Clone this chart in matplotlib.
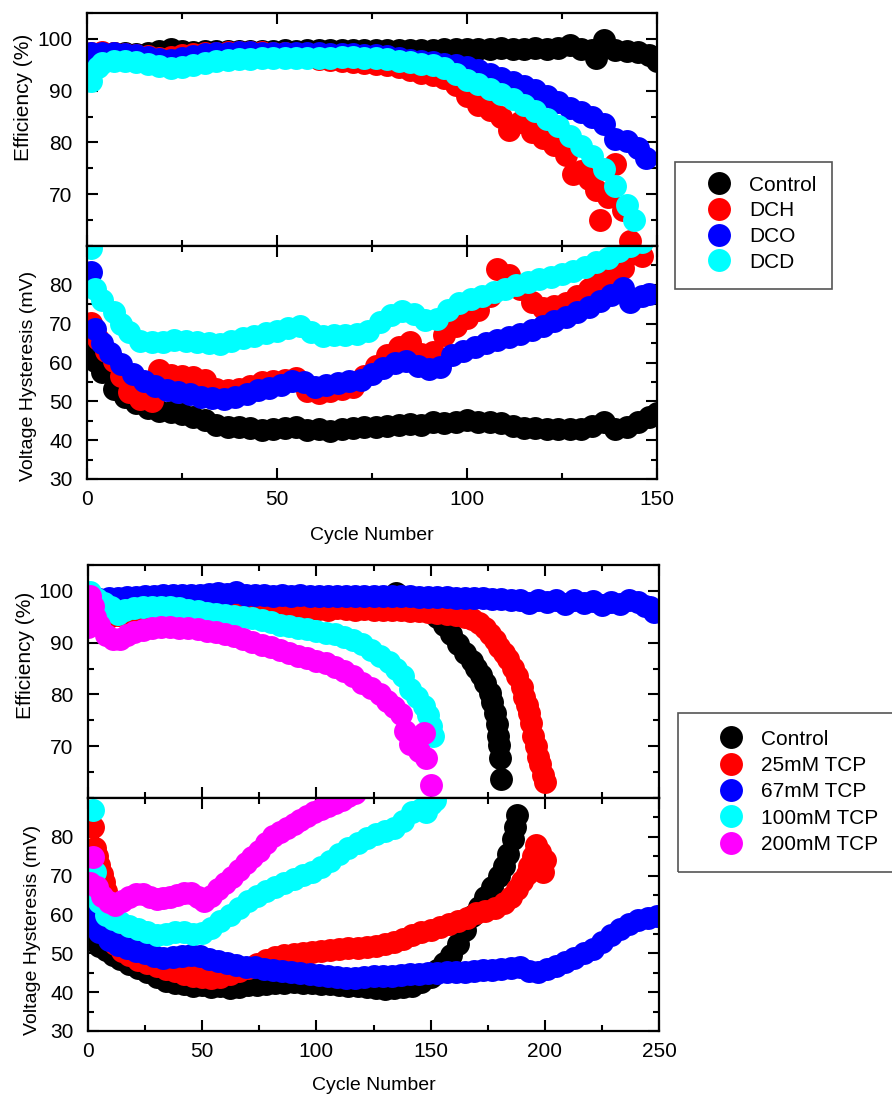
import matplotlib
matplotlib.use("Agg")
import matplotlib.pyplot as plt
from matplotlib.patches import Rectangle
from matplotlib.ticker import MultipleLocator

plt.rcParams['font.family'] = ['Liberation Sans', 'DejaVu Sans']

# ---------------- top figure : DCH / DCO / DCD ----------------
top_names = ['Control', 'DCH', 'DCO', 'DCD']
top_colors = ['#000000', '#ff0000', '#0000ff', '#00ffff']

# efficiency (%)
ctl_eff_x = [1, 4, 7, 10, 13, 16, 19, 22, 25, 28, 31, 34, 37, 40, 43, 46, 49, 52, 55, 58,
             61, 64, 67, 70, 73, 76, 79, 82, 85, 88, 91, 94, 97, 100, 103, 106, 109, 112, 115, 118,
             121, 124, 127, 130, 133, 134, 136, 139, 142, 145, 148, 150]
ctl_eff_y = [97.0, 97.2, 97.3, 97.2, 97.1, 97.2, 97.6, 98.0, 97.6, 97.5, 97.6, 97.6, 97.7, 97.7, 97.6, 97.7, 97.7, 97.8, 97.7, 97.8,
             97.8, 97.9, 97.8, 97.8, 97.9, 97.8, 97.9, 97.9, 97.8, 97.9, 97.9, 98.0, 98.0, 98.1, 98.1, 98.0, 98.2, 98.1, 98.0, 98.2,
             98.1, 98.2, 98.8, 98.1, 97.9, 96.4, 99.8, 97.8, 97.6, 97.5, 96.8, 95.8]

dch_eff_x = [1, 4, 7, 10, 13, 16, 19, 22, 25, 28, 31, 34, 37, 40, 43, 46, 49, 52, 55, 58,
             61, 64, 67, 70, 73, 76, 79, 82, 85, 88, 91, 94, 97, 100, 103, 106, 109, 111, 114, 117,
             120, 123, 126, 128, 130, 132, 134, 135, 137, 139, 141, 143]
dch_eff_y = [97.3, 97.4, 97.3, 97.0, 96.8, 96.6, 96.4, 96.5, 96.8, 97.0, 97.2, 97.3, 97.4, 97.5, 97.5, 97.4, 97.3, 97.2, 97.0, 96.8,
             96.2, 95.9, 95.7, 95.5, 95.3, 95.1, 94.9, 94.6, 94.0, 93.4, 93.0, 92.5, 91.0, 89.0, 87.2, 86.2, 85.0, 82.4, 84.0, 82.0,
             80.8, 79.5, 77.5, 74.0, 74.5, 73.0, 70.8, 65.0, 69.5, 75.8, 67.0, 61.0]

dco_eff_x = [1, 4, 7, 10, 13, 16, 19, 22, 25, 28, 31, 34, 37, 40, 43, 46, 49, 52, 55, 58,
             61, 64, 67, 70, 73, 76, 79, 82, 85, 88, 91, 94, 97, 100, 103, 106, 109, 112, 115, 118,
             121, 124, 127, 130, 133, 136, 139, 142, 145, 147]
dco_eff_y = [97.3, 97.3, 97.2, 97.0, 96.8, 96.5, 96.2, 96.0, 96.4, 96.7, 97.0, 97.2, 97.3, 97.4, 97.4, 97.3, 97.3, 97.2, 97.2, 97.2,
             97.2, 97.1, 97.1, 97.0, 96.9, 96.8, 96.6, 96.3, 96.0, 95.8, 95.5, 95.2, 94.9, 94.6, 94.0, 93.2, 92.4, 91.6, 90.9, 90.1,
             89.0, 87.8, 86.7, 85.8, 85.0, 83.5, 80.6, 80.3, 79.0, 77.0]

dcd_eff_x = [1, 3, 4, 7, 10, 13, 16, 19, 22, 25, 28, 31, 34, 37, 40, 43, 46, 49, 52, 55, 58,
             61, 64, 67, 70, 73, 76, 79, 82, 85, 88, 91, 94, 97, 100, 103, 106, 109, 112, 115, 118,
             121, 124, 127, 130, 133, 136, 139, 142, 144]
dcd_eff_y = [91.8, 94.5, 95.4, 95.7, 95.7, 95.6, 95.2, 94.7, 94.3, 94.5, 94.9, 95.3, 95.7, 96.0, 96.1, 96.2, 96.3, 96.3, 96.4, 96.4, 96.4,
             96.4, 96.4, 96.5, 96.5, 96.4, 96.3, 96.1, 95.8, 95.5, 95.2, 95.0, 94.3, 93.2, 92.1, 91.2, 90.3, 89.4, 88.4, 87.2, 86.0,
             84.6, 83.1, 81.2, 79.3, 77.3, 74.8, 71.5, 68.0, 65.0]

# voltage hysteresis (mV)
ctl_hys_x = [1, 2, 4, 7, 10, 13, 16, 19, 22, 25, 28, 31, 34, 37, 40, 43, 46, 49, 52, 55, 58,
             61, 64, 67, 70, 73, 76, 79, 82, 85, 88, 91, 94, 97, 100, 103, 106, 109, 112, 115, 118,
             121, 124, 127, 130, 133, 136, 139, 142, 145, 148, 150]
ctl_hys_y = [64.0, 60.5, 57.5, 53.3, 51.0, 49.6, 48.4, 47.6, 47.2, 46.8, 46.0, 45.2, 44.0, 43.4, 43.4, 43.2, 42.6, 43.0, 43.2, 43.4, 42.6,
             42.8, 42.4, 43.0, 43.2, 43.4, 43.3, 43.7, 44.0, 44.2, 44.0, 44.7, 44.5, 44.6, 45.1, 44.8, 44.6, 44.5, 43.6, 43.2, 43.2,
             43.0, 42.9, 42.8, 43.0, 43.6, 44.6, 43.0, 43.4, 44.8, 46.0, 47.0]

dch_hys_x = [1, 3, 5, 7, 9, 11, 14, 17, 19, 22, 25, 28, 31, 34, 37, 40, 43, 46, 49, 52, 55, 58,
             61, 64, 67, 70, 73, 76, 79, 82, 85, 88, 91, 94, 97, 100, 103, 106, 108, 111, 114, 117,
             120, 123, 126, 129, 132, 135, 138, 141, 142, 143, 145, 146]
dch_hys_y = [70.3, 66.0, 63.0, 60.5, 56.5, 52.5, 50.5, 50.0, 58.0, 56.8, 56.5, 56.2, 55.5, 53.3, 52.8, 53.3, 54.0, 55.0, 55.3, 55.6, 56.0, 52.6,
             52.2, 52.6, 53.2, 53.6, 56.5, 59.2, 62.0, 64.0, 65.2, 62.3, 62.8, 67.0, 69.5, 71.5, 73.5, 77.0, 84.0, 82.5, 79.0, 75.5,
             74.0, 74.5, 75.2, 77.0, 79.0, 81.0, 82.5, 84.4, 90.5, 88.0, 88.5, 87.5]

dco_hys_x = [1, 2, 4, 6, 9, 12, 15, 18, 21, 24, 27, 30, 33, 36, 39, 42, 45, 48, 51, 54, 57, 60,
             63, 66, 69, 72, 75, 78, 81, 84, 87, 90, 93, 96, 99, 102, 105, 108, 111, 114, 117,
             120, 123, 126, 129, 132, 135, 138, 141, 143, 146, 148]
dco_hys_y = [83.2, 68.5, 65.0, 62.5, 59.5, 57.0, 55.3, 54.0, 53.0, 52.4, 51.8, 51.2, 50.8, 50.5, 51.2, 52.0, 52.8, 53.5, 54.2, 55.3, 55.0, 53.8,
             54.2, 54.8, 55.2, 55.6, 57.0, 58.6, 59.8, 60.5, 59.0, 58.2, 58.8, 62.0, 63.0, 64.0, 65.0, 65.8, 66.6, 67.3, 68.3,
             69.4, 70.6, 71.8, 73.0, 74.3, 75.8, 77.5, 79.3, 75.5, 77.0, 77.6]

dcd_hys_x = [1, 2, 4, 7, 9, 11, 14, 17, 20, 23, 26, 29, 32, 35, 38, 41, 44, 47, 50, 53, 56, 59,
             62, 65, 68, 71, 74, 77, 80, 83, 86, 89, 92, 95, 98, 101, 104, 107, 110, 113, 116,
             119, 122, 125, 128, 131, 134, 137, 140, 143, 146]
dcd_hys_y = [89.6, 79.0, 76.0, 72.9, 70.0, 67.8, 65.6, 65.2, 65.4, 65.8, 65.6, 65.2, 64.9, 64.8, 65.5, 66.2, 66.9, 67.5, 68.0, 68.8, 69.5, 67.8,
             66.9, 67.0, 67.2, 67.3, 68.2, 70.5, 72.2, 73.2, 72.5, 71.0, 71.2, 73.5, 75.2, 76.4, 77.2, 78.2, 79.0, 80.0, 80.8,
             81.4, 82.0, 82.7, 83.6, 84.6, 85.8, 87.0, 88.6, 90.0, 91.0]

# ---------------- bottom figure : TCP ----------------
bot_names = ['Control', '25mM TCP', '67mM TCP', '100mM TCP', '200mM TCP']
bot_colors = ['#000000', '#ff0000', '#0000ff', '#00ffff', '#ff00ff']

# efficiency (%)
c0_eff_x = [1, 5, 9, 13, 17, 21, 25, 29, 33, 37, 41, 45, 49, 53, 57, 61, 65, 69, 73, 77, 81, 85, 89, 93, 97,
            101, 105, 109, 113, 117, 121, 125, 129, 133, 135, 137, 141, 145, 149, 153, 156, 159, 162, 165, 168,
            170, 172, 174, 176, 177, 178, 179, 179.5, 180, 180.5, 181]
c0_eff_y = [97.5, 97.8, 98.0, 98.1, 98.1, 98.2, 98.2, 98.3, 98.3, 98.3, 98.4, 98.4, 98.4, 98.4, 98.5, 98.5, 98.5, 98.5, 98.5, 98.5, 98.5, 98.5, 98.5, 98.5, 98.5,
            98.5, 98.5, 98.5, 98.5, 98.5, 98.5, 98.5, 98.6, 98.8, 99.5, 98.6, 98.0, 97.3, 96.3, 95.0, 93.5, 91.6, 89.8, 88.0, 86.5,
            85.2, 83.8, 82.2, 80.2, 78.5, 76.5, 74.2, 72.0, 70.2, 67.8, 63.6]

c25_eff_x = [1, 5, 9, 13, 17, 21, 25, 29, 33, 37, 41, 45, 49, 53, 57, 61, 65, 69, 73, 77, 81, 85, 89, 93, 97,
             101, 105, 109, 113, 117, 121, 125, 129, 133, 137, 141, 145, 149, 153, 157, 161, 165, 168, 171, 174,
             176, 178, 180, 182, 184, 186, 188, 190, 191, 192, 193, 194, 195, 196, 197, 198, 199, 200]
c25_eff_y = [99.0, 96.5, 95.0, 95.3, 95.6, 95.8, 96.0, 96.1, 96.2, 96.3, 96.3, 96.4, 96.5, 96.6, 96.6, 96.7, 96.8, 96.6, 96.5, 96.4, 96.5, 96.3, 96.4, 96.4, 96.5,
             96.5, 96.4, 96.6, 96.5, 96.4, 96.5, 96.4, 96.4, 96.3, 96.3, 96.2, 96.2, 96.0, 95.8, 95.6, 95.4, 95.0, 94.5, 93.8, 92.8,
             91.6, 90.5, 89.2, 88.0, 86.8, 85.2, 83.5, 81.5, 79.5, 78.0, 76.5, 74.5, 72.0, 70.0, 68.0, 66.5, 64.5, 63.0]

c67_eff_x = [1, 5, 9, 13, 17, 21, 25, 29, 33, 37, 41, 45, 49, 53, 57, 61, 65, 69, 73, 77, 81, 85, 89, 93, 97,
             101, 105, 109, 113, 117, 121, 125, 129, 133, 137, 141, 145, 149, 153, 157, 161, 165, 169, 173, 177,
             181, 185, 189, 193, 197, 201, 205, 209, 213, 217, 221, 225, 229, 233, 237, 241, 244, 246, 248]
c67_eff_y = [98.3, 98.5, 98.6, 98.7, 98.8, 98.9, 99.0, 99.1, 99.2, 99.2, 99.3, 99.2, 99.3, 99.4, 99.6, 99.4, 99.7, 99.3, 99.2, 99.2, 99.1, 99.2, 99.1, 99.2, 99.1,
             99.1, 99.0, 99.1, 99.0, 99.1, 99.0, 99.1, 99.0, 99.1, 99.0, 99.0, 98.9, 98.9, 98.8, 98.9, 98.7, 98.7, 98.6, 98.6, 98.4,
             98.5, 98.3, 98.3, 97.6, 98.3, 97.8, 98.2, 97.4, 98.2, 97.6, 98.1, 97.2, 97.9, 97.5, 98.3, 97.8, 97.0, 96.8, 96.0]

c100_eff_x = [1, 4, 7, 10, 13, 16, 20, 24, 28, 32, 36, 40, 44, 48, 52, 56, 60, 64, 68, 72, 76, 80, 84, 88, 92,
              96, 100, 104, 108, 112, 116, 120, 124, 128, 132, 135, 138, 141, 144, 147, 149, 150, 151]
c100_eff_y = [99.7, 98.4, 97.6, 96.8, 95.5, 96.3, 96.6, 96.8, 96.9, 96.9, 96.8, 96.6, 96.4, 96.1, 95.8, 95.5, 95.3, 95.1, 94.9, 94.7, 94.3, 93.9, 93.5, 93.2, 92.9,
              92.6, 92.2, 91.8, 91.6, 91.0, 90.5, 89.7, 88.6, 87.5, 86.2, 85.0, 83.5, 81.0, 79.5, 77.8, 76.0, 74.0, 72.0]

c200_eff_x = [0, 1, 2, 3, 5, 8, 11, 14, 17, 20, 24, 28, 32, 36, 40, 44, 48, 52, 56, 60, 64, 68, 72, 76, 80,
              84, 88, 92, 96, 100, 104, 108, 112, 116, 120, 124, 128, 131, 134, 137, 139, 141, 143, 145, 147, 148, 150]
c200_eff_y = [93.0, 99.0, 97.0, 95.0, 93.5, 91.5, 90.7, 90.8, 91.5, 92.0, 92.5, 92.9, 93.0, 93.0, 92.9, 92.8, 92.6, 92.3, 92.0, 91.6, 91.2, 90.7, 90.2, 89.6, 89.1,
              88.6, 88.0, 87.5, 87.0, 86.5, 86.0, 85.3, 84.5, 83.5, 82.3, 81.3, 80.0, 78.8, 77.5, 76.3, 73.0, 70.5, 71.5, 69.0, 72.5, 67.8, 62.6]

# voltage hysteresis (mV)
c0_hys_x = [0.5, 3, 5, 8, 11, 14, 18, 22, 26, 30, 34, 38, 42, 46, 50, 54, 58, 62, 66, 70, 74, 78, 82, 86, 90,
            94, 98, 102, 106, 110, 114, 118, 122, 126, 130, 134, 138, 142, 146, 150, 153, 156, 159, 162, 165,
            168, 171, 174, 177, 180, 182, 184, 186, 187, 188]
c0_hys_y = [59.0, 53.5, 52.0, 50.8, 49.6, 48.6, 47.2, 46.2, 45.2, 44.0, 42.8, 42.4, 42.2, 41.5, 41.8, 41.3, 41.5, 41.2, 41.4, 41.8, 41.9, 42.0, 42.3, 42.4, 42.5,
            42.4, 42.3, 42.2, 42.0, 41.8, 41.5, 41.6, 41.4, 41.0, 40.8, 41.2, 41.4, 41.6, 42.6, 44.0, 45.8, 47.5, 49.5, 52.5, 56.0,
            59.5, 62.0, 64.6, 67.2, 70.0, 72.5, 75.5, 79.5, 82.5, 85.5]

c25_hys_x = [1, 2, 3, 4, 5, 6, 7, 8, 9, 10, 11, 12, 15, 18, 22, 26, 30, 34, 38, 42, 46, 50, 54, 58, 62,
             66, 70, 74, 78, 82, 86, 90, 94, 98, 102, 106, 110, 114, 118, 122, 126, 130, 134, 138, 142,
             146, 150, 154, 158, 162, 166, 170, 174, 178, 182, 185, 188, 190, 192, 193, 195, 196, 198, 199, 200]
c25_hys_y = [66.0, 82.5, 77.0, 75.0, 72.7, 70.5, 68.4, 66.0, 63.0, 59.0, 55.0, 52.5, 50.5, 49.6, 48.4, 47.5, 46.7, 46.0, 45.4, 44.8, 44.2, 43.8, 43.7, 44.0, 44.6,
             45.4, 46.2, 47.2, 48.2, 49.0, 49.6, 49.9, 50.2, 50.4, 50.5, 50.8, 51.0, 51.3, 51.4, 51.6, 51.8, 52.3, 53.0, 53.8, 54.6,
             55.4, 56.0, 56.8, 57.5, 58.3, 59.2, 60.3, 61.0, 61.8, 63.0, 64.5, 66.5, 68.5, 70.5, 72.5, 75.0, 77.8, 76.0, 71.0, 74.0]

c67_hys_x = [1, 3, 5, 9, 13, 17, 21, 25, 29, 33, 37, 41, 45, 49, 53, 57, 61, 65, 69, 73, 77, 81, 85, 89, 93,
             97, 101, 105, 109, 113, 117, 121, 125, 129, 133, 137, 141, 145, 149, 153, 157, 161, 165, 169, 173,
             177, 181, 185, 189, 193, 197, 201, 205, 209, 213, 217, 221, 225, 229, 233, 237, 241, 245, 249]
c67_hys_y = [59.5, 57.0, 55.5, 53.5, 52.2, 51.3, 50.5, 50.0, 49.3, 48.8, 49.0, 49.3, 49.6, 49.2, 48.6, 48.0, 47.4, 47.0, 46.6, 46.4, 46.0, 45.6, 45.4, 45.2, 45.0,
             44.8, 44.5, 44.2, 43.8, 43.6, 43.7, 43.9, 44.1, 44.2, 44.2, 44.4, 44.6, 44.8, 44.9, 45.0, 45.2, 45.3, 45.3, 45.4, 45.6,
             45.8, 46.0, 46.3, 46.4, 45.5, 45.3, 46.0, 46.8, 47.8, 48.8, 50.0, 51.2, 53.0, 54.8, 56.3, 57.6, 58.6, 59.0, 59.6]

c100_hys_x = [2, 3, 4, 5, 8, 11, 14, 18, 22, 26, 30, 34, 38, 42, 46, 50, 54, 58, 62, 66, 70, 74, 78, 82, 86,
              90, 94, 98, 102, 106, 110, 114, 118, 122, 126, 130, 134, 138, 142, 146, 148, 150, 152]
c100_hys_y = [86.8, 71.0, 65.0, 63.3, 60.0, 58.8, 58.0, 57.0, 56.2, 55.4, 54.8, 55.0, 55.4, 55.6, 55.0, 55.2, 56.6, 58.2, 60.0, 61.8, 63.4, 64.8, 66.0, 67.2, 68.2,
              69.2, 70.1, 71.0, 72.2, 73.8, 75.6, 77.0, 78.3, 79.8, 80.8, 81.6, 82.2, 84.2, 86.5, 87.2, 86.4, 88.5, 89.6]

c200_hys_x = [1, 2, 4, 6, 9, 12, 15, 18, 21, 24, 27, 30, 33, 36, 39, 42, 45, 48, 51, 54, 57, 60, 63, 66, 69,
              72, 75, 78, 81, 84, 87, 90, 93, 96, 99, 102, 105, 108, 111, 114, 117]
c200_hys_y = [68.0, 74.8, 67.0, 64.8, 63.2, 62.4, 63.6, 64.6, 65.4, 65.2, 64.6, 64.0, 64.2, 64.4, 65.0, 65.6, 65.5, 64.4, 63.4, 64.8, 66.5, 68.0, 69.6, 71.4, 73.2,
              74.8, 76.4, 78.5, 80.2, 81.3, 82.4, 83.4, 84.4, 85.4, 86.4, 87.2, 88.0, 88.8, 89.6, 90.4, 91.2]

top_eff = [(ctl_eff_x, ctl_eff_y), (dch_eff_x, dch_eff_y), (dco_eff_x, dco_eff_y), (dcd_eff_x, dcd_eff_y)]
top_hys = [(ctl_hys_x, ctl_hys_y), (dch_hys_x, dch_hys_y), (dco_hys_x, dco_hys_y), (dcd_hys_x, dcd_hys_y)]
bot_eff = [(c0_eff_x, c0_eff_y), (c25_eff_x, c25_eff_y), (c67_eff_x, c67_eff_y),
           (c100_eff_x, c100_eff_y), (c200_eff_x, c200_eff_y)]
bot_hys = [(c0_hys_x, c0_hys_y), (c25_hys_x, c25_hys_y), (c67_hys_x, c67_hys_y),
           (c100_hys_x, c100_hys_y), (c200_hys_x, c200_hys_y)]

MS = 16.5  # marker size (pt)
W, H = 892.0, 1097.0


def style(ax, xmax, ymin, ymax, ymajor, show_x):
    #common look of every panel: boxed, ticks inside on all four sides
    ax.set_xlim(0, xmax)
    ax.set_ylim(ymin, ymax)
    ax.xaxis.set_major_locator(MultipleLocator(50))
    ax.xaxis.set_minor_locator(MultipleLocator(25))
    ax.set_yticks(ymajor)
    ax.yaxis.set_minor_locator(MultipleLocator(5))
    ax.tick_params(which='both', direction='in', top=True, right=True, width=1.5, labelsize=15)
    ax.tick_params(which='major', length=8)
    ax.tick_params(which='minor', length=4.5)
    ax.tick_params(axis='y', pad=10.5)
    ax.tick_params(axis='x', pad=8)
    for s in ax.spines.values():
        s.set_linewidth(1.6)
    if not show_x:
        ax.tick_params(axis='x', labelbottom=False)


def draw(ax, data, colors, names):
    handles = []
    for (x, y), c, n in zip(data, colors, names):
        h, = ax.plot(x, y, 'o', ms=MS, color=c, mew=0, label=n)
        handles.append(h)
    return handles


def box(x0, y0, x1, y1):
    #legend frame drawn by hand, pixel corners (top-left origin)
    r = Rectangle((x0 / W, 1 - y1 / H), (x1 - x0) / W, (y1 - y0) / H, transform=fig.transFigure,
                  fill=False, edgecolor='#555555', linewidth=1.2, clip_on=False)
    fig.add_artist(r)


fig = plt.figure(figsize=(W / 100, H / 100), dpi=100)

# panel rectangles from pixel positions in the reference
ax1 = fig.add_axes([87 / W, 1 - 246 / H, 570 / W, 233 / H])
ax2 = fig.add_axes([87 / W, 1 - 479 / H, 570 / W, 233 / H])
ax3 = fig.add_axes([88 / W, 1 - 798 / H, 571 / W, 233 / H])
ax4 = fig.add_axes([88 / W, 1 - 1031 / H, 571 / W, 233 / H])

h_top = draw(ax1, top_eff, top_colors, top_names)
draw(ax2, top_hys, top_colors, top_names)
h_bot = draw(ax3, bot_eff, bot_colors, bot_names)
draw(ax4, bot_hys, bot_colors, bot_names)

style(ax1, 150, 60, 105, [70, 80, 90, 100], False)
style(ax2, 150, 30, 90, [30, 40, 50, 60, 70, 80], True)
style(ax3, 250, 60, 105, [70, 80, 90, 100], False)
style(ax4, 250, 30, 90, [30, 40, 50, 60, 70, 80], True)

ax1.set_ylabel('Efficiency (%)', fontsize=15)
ax1.yaxis.set_label_coords(-0.095, 0.637)
ax2.set_ylabel('Voltage Hysteresis (mV)', fontsize=14)
ax2.yaxis.set_label_coords(-0.088, 0.443)
ax2.set_xlabel('Cycle Number', fontsize=14)
ax2.xaxis.set_label_coords(0.5, -0.205)

ax3.set_ylabel('Efficiency (%)', fontsize=15)
ax3.yaxis.set_label_coords(-0.093, 0.61)
ax4.set_ylabel('Voltage Hysteresis (mV)', fontsize=14)
ax4.yaxis.set_label_coords(-0.082, 0.433)
ax4.set_xlabel('Cycle Number', fontsize=14)
ax4.xaxis.set_label_coords(0.5, -0.197)

# legends outside on the right (frames drawn separately)
fig.legend(h_top, top_names, loc='upper left',
           bbox_to_anchor=(675 / W, 1 - 162 / H),
           fontsize=15, frameon=False,
           handlelength=2.9, handletextpad=0.0, borderpad=0.66, labelspacing=0.32,
           borderaxespad=0)
box(675, 162, 832, 289)

fig.legend(h_bot, bot_names, loc='upper left',
           bbox_to_anchor=(678 / W, 1 - 713 / H),
           fontsize=15, frameon=False,
           handlelength=3.5, handletextpad=-0.3, borderpad=0.8, labelspacing=0.35,
           borderaxespad=0)
# second box runs off the right edge of the figure
box(678, 713, 905, 872)

fig.savefig('out.png', dpi=100)
